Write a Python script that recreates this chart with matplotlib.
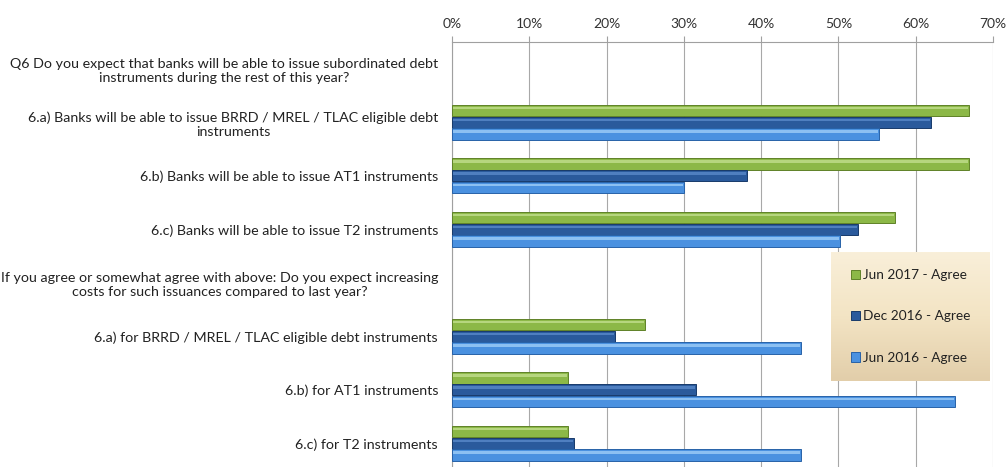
import numpy as np
import matplotlib
matplotlib.use('Agg')
import matplotlib.pyplot as plt
from matplotlib.ticker import PercentFormatter

# Kategorie (od góry); puste wartości = wiersze nagłówków bez słupków
labels = [
    'Q6 Do you expect that banks will be able to issue subordinated debt\ninstruments during the rest of this year?',
    '6.a) Banks will be able to issue BRRD / MREL / TLAC eligible debt\ninstruments',
    '6.b) Banks will be able to issue AT1 instruments',
    '6.c) Banks will be able to issue T2 instruments',
    'If you agree or somewhat agree with above: Do you expect increasing\ncosts for such issuances compared to last year?',
    '6.a) for BRRD / MREL / TLAC eligible debt instruments',
    '6.b) for AT1 instruments',
    '6.c) for T2 instruments',
]

series_names = ['Jun 2017 - Agree', 'Dec 2016 - Agree', 'Jun 2016 - Agree']
jun_2017 = [np.nan, 66.9, 66.9, 57.3, np.nan, 25.0, 15.0, 15.0]
dec_2016 = [np.nan, 62.0, 38.2, 52.5, np.nan, 21.1, 31.6, 15.8]
jun_2016 = [np.nan, 55.2, 30.0, 50.2, np.nan, 45.1, 65.1, 45.1]

colors = ['#8cb847', '#2a5a9c', '#4a91e0']
light = ['#b6d67e', '#4f7fc0', '#8cc0f2']
edges = ['#5f8228', '#183a6a', '#2862a8']

plt.rcParams['font.family'] = ['Lato', 'DejaVu Sans']

fig = plt.figure(figsize=(10.08, 4.67), dpi=100)
ax = fig.add_axes([452 / 1008, -3 / 467, 541 / 1008, 428 / 467])

y = np.arange(len(labels))
h = 0.219
offsets = [-h, 0, h]
for vals, off, c, lc, ec, name in zip([jun_2017, dec_2016, jun_2016], offsets, colors, light, edges, series_names):
    ax.barh(y + off, vals, height=h * 0.96, color=c, edgecolor=ec, linewidth=0.7, label=name, zorder=3)
    # jaśniejszy pasek u góry słupka (efekt wypukłości)
    ax.barh(y + off - h * 0.2, np.array(vals) - 0.25, height=h * 0.22, left=0.15, color=lc,
            linewidth=0, zorder=4)

ax.set_xlim(0, 70)
ax.set_ylim(7.5, -0.5)
ax.set_xticks(np.arange(0, 71, 10))
ax.xaxis.set_major_formatter(PercentFormatter(decimals=0))
ax.xaxis.tick_top()
ax.tick_params(axis='x', length=4, color='#a0a0a0', labelsize=10, labelcolor='#333333', pad=5)
ax.grid(axis='x', color='#a8a8a8', linewidth=0.8, zorder=0)

ax.set_yticks(y)
ax.set_yticklabels(labels, fontsize=10.3, color='#222222')
for t in ax.get_yticklabels():
    t.set_multialignment('center')
ax.tick_params(axis='y', length=0, pad=10)

for s in ['right', 'bottom']:
    ax.spines[s].set_visible(False)
ax.spines['left'].set_color('#a0a0a0')
ax.spines['top'].set_color('#a0a0a0')

# tło legendy z gradientem
lx, ly, lw, lh = 831 / 1008, 1 - 381 / 467, 159 / 1008, 129 / 467
bg = fig.add_axes([lx, ly, lw, lh])
grad = np.linspace(0, 1, 100).reshape(-1, 1)
bg.imshow(grad, aspect='auto', cmap=matplotlib.colors.LinearSegmentedColormap.from_list(
    'beige', ['#f9efd9', '#f3e4c4', '#e2ceaa']), extent=(0, 1, 0, 1), origin='upper')
bg.set_xticks([])
bg.set_yticks([])
for s in bg.spines.values():
    s.set_visible(False)

handles, names = ax.get_legend_handles_labels()
leg = fig.legend(handles, names, loc='center', bbox_to_anchor=(lx + lw / 2, ly + lh / 2),
                 frameon=False, fontsize=9.8, labelspacing=2.15, handlelength=0.65,
                 handleheight=0.65, handletextpad=0.25, borderpad=0)
for t in leg.get_texts():
    t.set_color('#222222')

fig.savefig('out.png', dpi=100)
